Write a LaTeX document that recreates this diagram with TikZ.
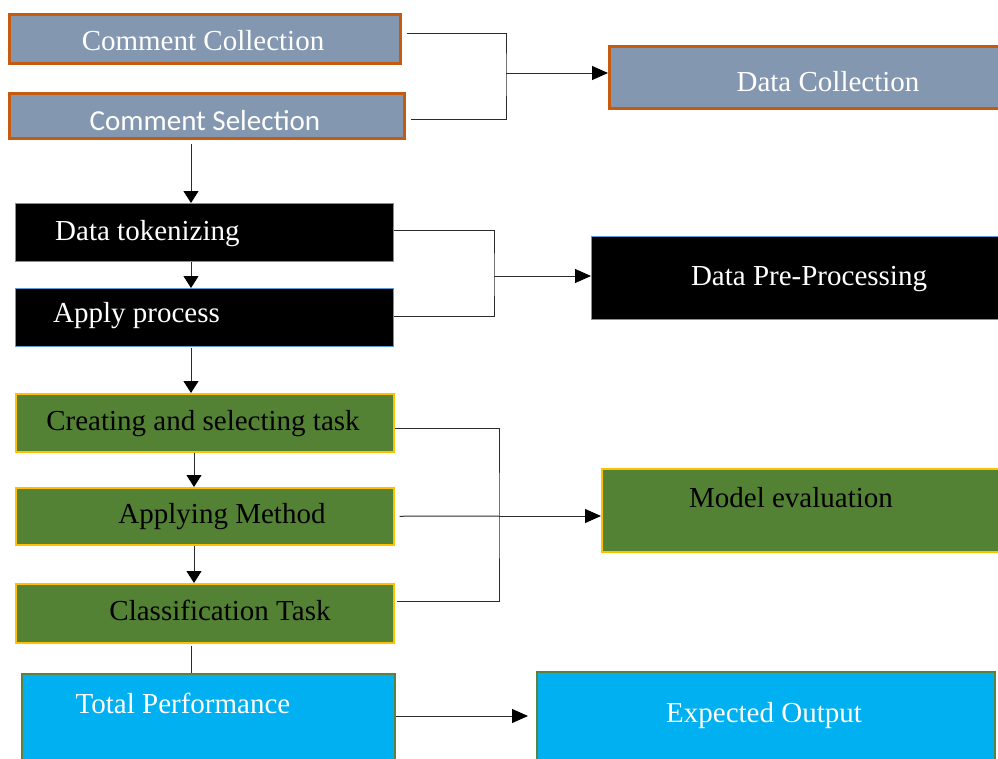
\documentclass[tikz,border=0pt]{standalone}
\usepackage{fontspec}
\setmainfont{Liberation Serif}
\newfontfamily\calib{Carlito}
\usetikzlibrary{arrows.meta,calc}

\definecolor{slate}{HTML}{8497B0}
\definecolor{rust}{HTML}{C55A11}
\definecolor{leaf}{HTML}{548235}
\definecolor{gold}{HTML}{FFC000}
\definecolor{sky}{HTML}{00B0F0}
\definecolor{steel}{HTML}{5B9BD5}
\definecolor{wire}{HTML}{2B2B2B}

\tikzset{
  box/.style={rectangle, anchor=north west, inner sep=0pt},
  graybox/.style={box, fill=slate, draw=rust, line width=2.5pt},
  blackbox/.style={box, fill=black, draw=steel, line width=1.2pt},
  greenbox/.style={box, fill=leaf, draw=gold, line width=1.5pt},
  bluebox/.style={box, fill=sky, draw=leaf!85!gray, line width=2pt},
  lbl/.style={inner sep=0pt, anchor=base, font=\fontsize{29}{34}\selectfont},
  lblw/.style={lbl, text=white},
  link/.style={draw=wire, line width=1pt},
  flow/.style={link, -{Triangle[length=16pt,width=14pt,color=black]}},
  down/.style={link, -{Triangle[length=12pt,width=15pt,color=black]}}
}

\begin{document}
\begin{tikzpicture}[x=1pt,y=-1pt]
\useasboundingbox (0,0) rectangle (998,758);
\clip (0,0) rectangle (998,758);

% Data collection stage
\node[graybox, minimum width=391pt, minimum height=49pt] (cc) at (8,13) {};
\node[graybox, minimum width=395pt, minimum height=45pt] (cs) at (8,92) {};
\node[graybox, minimum width=430pt, minimum height=62pt] (dc) at (608,45) {};
\node[lblw] (tcc) at (203,50) {Comment Collection};
\node[lblw, font=\calib\fontsize{29}{34}\selectfont] (tcs) at (205,130) {Comment Selection};
\node[lblw] (tdc) at (828,91) {Data Collection};

% Pre-processing stage
\node[blackbox, minimum width=378pt, minimum height=58pt] (dt) at (15,203) {};
\node[blackbox, minimum width=378pt, minimum height=58pt] (ap) at (15,288) {};
\node[blackbox, minimum width=430pt, minimum height=83pt] (dpp) at (591,236) {};
\node[lblw, anchor=base west] (tdt) at (55,240) {Data tokenizing};
\node[lblw, anchor=base west] (tap) at (53,322) {Apply process};
\node[lblw] (tdpp) at (809,285) {Data Pre-Processing};

% Modelling stage
\node[greenbox, minimum width=378pt, minimum height=58pt] (cst) at (15,393) {};
\node[greenbox, minimum width=378pt, minimum height=57pt] (am) at (15,487) {};
\node[greenbox, minimum width=378pt, minimum height=59pt] (ct) at (15,583) {};
\node[greenbox, minimum width=430pt, minimum height=83pt] (me) at (601,468) {};
\node[lbl] (tcst) at (203,430) {Creating and selecting task};
\node[lbl] (tam) at (222,523) {Applying Method};
\node[lbl] (tct) at (220,620) {Classification Task};
\node[lbl] (tme) at (791,507) {Model evaluation};

% Results stage
\node[bluebox, minimum width=373pt, minimum height=120pt] (tp) at (21,673) {};
\node[bluebox, minimum width=458pt, minimum height=120pt] (eo) at (536,671) {};
\node[lblw] (ttp) at (183,713) {Total Performance};
\node[lblw] (teo) at (764,722) {Expected Output};

% junction points of the bracket connectors
\coordinate (j1) at (506,73);
\coordinate (j2) at (494,276);
\coordinate (j3) at (499,516);
\coordinate (j4) at (0,716);
\coordinate (colA) at (191,0);
\coordinate (colB) at (194,0);

% brackets feeding the stage boxes
\draw[link] ([xshift=5pt,yshift=5.5pt]cc.east) -| (j1) |- ([xshift=5pt,yshift=-3.5pt]cs.east);
\draw[flow] (j1) -- (j1 -| dc.west);
\draw[link] ([yshift=2pt]dt.east) -| (j2) |- ([yshift=1pt]ap.east);
\draw[flow] (j2) -- (j2 -| dpp.west);
\draw[link] ([yshift=-6pt]cst.east) -| (j3) |- ([xshift=2pt,yshift=11.5pt]ct.east);
\draw[link] ([xshift=5pt]am.east) -- (j3);
\draw[flow] (j3) -- (j3 -| me.west);
\draw[flow, shorten >=8pt] (j4 -| tp.east) -- (j4 -| eo.west);

% vertical flow down the left column
\draw[down, shorten <=4pt] (cs.south -| colA) -- (dt.north -| colA);
\draw[down] (dt.south -| colA) -- (ap.north -| colA);
\draw[down, shorten <=1pt] (ap.south -| colA) -- (cst.north -| colA);
\draw[down] (cst.south -| colB) -- (am.north -| colB);
\draw[down] (am.south -| colB) -- (ct.north -| colB);
\draw[link, shorten <=2pt] (ct.south -| colA) -- (tp.north -| colA);
\end{tikzpicture}
\end{document}
